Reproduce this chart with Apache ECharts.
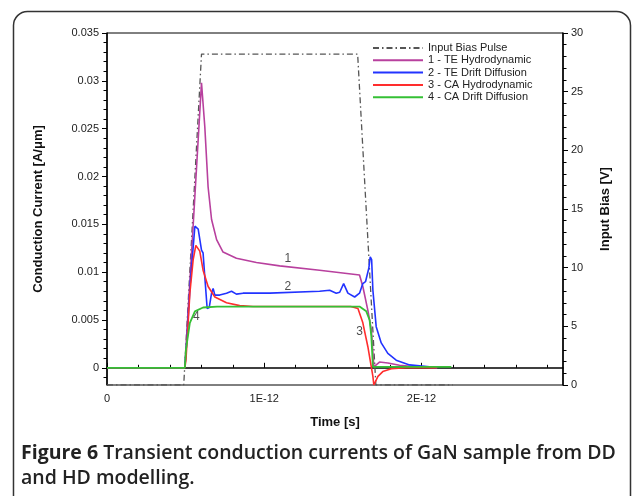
<!DOCTYPE html>
<html lang="en">
<head>
<meta charset="utf-8">
<title>Transient conduction currents</title>
<script src="https://cdn.jsdelivr.net/npm/echarts@6/dist/echarts.min.js"></script>
<style>
  html, body { margin: 0; padding: 0; background: #fff; }
  #main { width: 633px; height: 496px; }
</style>
</head>
<body>
<div id="main"></div>
<script>
// time in ps (axis labelled in seconds), current in A/um, bias in V
var biasPulse = [[0, 0], [0.488, 0], [0.601, 28.2], [1.594, 28.2], [1.71, 0], [2.2, 0]];

var teHydro = [[0, 0], [0.495, 0], [0.601, 0.0298], [0.622, 0.0252], [0.643, 0.0189], [0.665, 0.0155],
  [0.697, 0.0134], [0.738, 0.0121], [0.823, 0.01145], [0.95, 0.0110], [1.098, 0.01065], [1.352, 0.0102],
  [1.606, 0.0097], [1.627, 0.0085], [1.659, 0.006], [1.681, 0.004], [1.697, 0.0001], [1.733, 0.0006],
  [1.786, 0.0005], [1.86, 0.00026], [1.966, 0.0001], [2.1, 0]];

var teDrift = [[0, 0], [0.495, 0], [0.506, 0.0025], [0.53, 0.009], [0.559, 0.0148], [0.58, 0.0145],
  [0.601, 0.0123], [0.611, 0.0120], [0.622, 0.0095], [0.637, 0.0062], [0.65, 0.0063], [0.665, 0.0078],
  [0.675, 0.0083], [0.686, 0.0076], [0.717, 0.0076], [0.76, 0.0078], [0.792, 0.0080], [0.823, 0.0077],
  [0.865, 0.0078], [1.035, 0.0078], [1.352, 0.0080], [1.416, 0.0081], [1.458, 0.0078], [1.48, 0.0079],
  [1.505, 0.0088], [1.532, 0.0078], [1.575, 0.0074], [1.606, 0.0078], [1.627, 0.0088], [1.644, 0.0090],
  [1.665, 0.0104], [1.674, 0.0116], [1.683, 0.0113], [1.691, 0.0081], [1.712, 0.0043], [1.744, 0.0026],
  [1.786, 0.0015], [1.839, 0.0008], [1.924, 0.0003], [2.051, 0.0001], [2.1, 0]];

var caHydro = [[0, 0], [0.495, 0], [0.502, 0.0008], [0.527, 0.0078], [0.548, 0.0113], [0.565, 0.0128],
  [0.59, 0.0122], [0.611, 0.0102], [0.643, 0.0085], [0.686, 0.0074], [0.76, 0.0068], [0.844, 0.0065],
  [0.929, 0.0064], [1.55, 0.0064], [1.596, 0.0062], [1.627, 0.0047], [1.659, 0.0022], [1.691, -0.0009],
  [1.697, -0.0018], [1.723, -0.0009], [1.754, -0.0004], [1.808, -0.0001], [1.9, 0], [2.1, 0]];

var caDrift = [[0, 0], [0.495, 0], [0.502, 0.0019], [0.527, 0.0047], [0.559, 0.0059], [0.611, 0.0063],
  [0.7, 0.0064], [1.606, 0.0064], [1.649, 0.0059], [1.670, 0.0050], [1.681, 0.0033], [1.691, 0.0001],
  [2.19, 0.0001]];

var curveTags = [[1.15, 0.0114, '1'], [1.15, 0.0085, '2'], [1.606, 0.0038, '3'], [0.568, 0.0053, '4']];

var currentTicks = [0, 0.005, 0.01, 0.015, 0.02, 0.025, 0.03, 0.035];
var currentMinor = [-0.001, 0.001, 0.002, 0.003, 0.004, 0.006, 0.007, 0.008, 0.009, 0.011, 0.012, 0.013, 0.014,
  0.016, 0.017, 0.018, 0.019, 0.021, 0.022, 0.023, 0.024, 0.026, 0.027, 0.028, 0.029, 0.031, 0.032, 0.033, 0.034];
var timeTicks = [0, 1, 2];
var timeMinor = [0.2, 0.4, 0.6, 0.8, 1.2, 1.4, 1.6, 1.8, 2.2, 2.4, 2.6, 2.8];

var chart = echarts.init(document.getElementById('main'));

var axisFont = 'Liberation Sans, Arial, sans-serif';
var nameStyle = { fontFamily: axisFont, fontWeight: 'bold', fontSize: 13, color: '#111' };

function timeLabel(v) {
  return v === 0 ? '0' : v + 'E-12';
}

option = {
  animation: false,
  backgroundColor: '#fff',
  grid: { left: 107, right: 70, top: 33, bottom: 111, show: true, borderColor: '#000', borderWidth: 1 },
  legend: {
    orient: 'vertical',
    left: 367,
    top: 37,
    itemWidth: 50,
    itemHeight: 12,
    itemGap: 0.3,
    itemStyle: { opacity: 0 },
    textStyle: { fontFamily: 'Liberation Sans Narrow, Liberation Sans, Arial, sans-serif', fontSize: 11, color: '#222', lineHeight: 12 },
    data: ['Input Bias Pulse', '1 - TE Hydrodynamic', '2 - TE Drift Diffusion', '3 - CA Hydrodynamic', '4 - CA Drift Diffusion']
  },
  xAxis: [{
    type: 'value', min: 0, max: 2.9, position: 'bottom',
    name: 'Time [s]', nameLocation: 'middle', nameGap: 31, nameTextStyle: nameStyle,
    axisLine: { lineStyle: { color: '#000', width: 1.5 } },
    axisTick: { inside: true, length: 5, customValues: timeTicks, lineStyle: { color: '#000' } },
    axisLabel: { customValues: timeTicks, formatter: timeLabel, margin: 8, fontFamily: axisFont, fontSize: 11, color: '#222' },
    splitLine: { show: false }
  }, {
    type: 'value', min: 0, max: 2.9, position: 'bottom',
    axisLine: { show: false },
    axisTick: { inside: true, length: 3, customValues: timeMinor, lineStyle: { color: '#000' } },
    axisLabel: { show: false },
    splitLine: { show: false }
  }],
  yAxis: [{
    type: 'value', min: -0.0018, max: 0.035, position: 'left',
    name: 'Conduction Current [A/\u03bcm]', nameLocation: 'middle', nameGap: 62, nameRotate: 90, nameTextStyle: nameStyle,
    axisLine: { show: true, lineStyle: { color: '#000', width: 1.5 } },
    axisTick: { show: true, length: 5, customValues: currentTicks, lineStyle: { color: '#000' } },
    axisLabel: { customValues: currentTicks, margin: 8, fontFamily: axisFont, fontSize: 11, color: '#222' },
    splitLine: { show: false }
  }, {
    type: 'value', min: -0.0018, max: 0.035, position: 'left',
    axisLine: { show: false },
    axisTick: { show: true, length: 3.5, customValues: currentMinor, lineStyle: { color: '#000' } },
    axisLabel: { show: false },
    splitLine: { show: false }
  }, {
    type: 'value', min: 0, max: 30, interval: 5, position: 'right',
    name: 'Input Bias [V]', nameLocation: 'middle', nameGap: 36, nameRotate: 90, nameTextStyle: nameStyle,
    axisLine: { show: true, lineStyle: { color: '#000', width: 1.5 } },
    axisTick: { show: true, length: 5, lineStyle: { color: '#000' } },
    minorTick: { show: true, splitNumber: 5, length: 3.5, lineStyle: { color: '#000' } },
    axisLabel: { margin: 8, fontFamily: axisFont, fontSize: 11, color: '#222' },
    splitLine: { show: false }
  }],
  series: [{
    name: 'Input Bias Pulse', type: 'line', yAxisIndex: 2, symbol: 'none',
    lineStyle: { color: '#555', width: 1.3, type: [6, 3, 1.5, 3] },
    itemStyle: { color: '#555' },
    data: biasPulse
  }, {
    name: '1 - TE Hydrodynamic', type: 'line', symbol: 'none',
    lineStyle: { color: '#b8409e', width: 1.6 }, itemStyle: { color: '#b8409e' },
    data: teHydro
  }, {
    name: '2 - TE Drift Diffusion', type: 'line', symbol: 'none',
    lineStyle: { color: '#2233ff', width: 1.6 }, itemStyle: { color: '#2233ff' },
    data: teDrift
  }, {
    name: '3 - CA Hydrodynamic', type: 'line', symbol: 'none',
    lineStyle: { color: '#ff2d2d', width: 1.6 }, itemStyle: { color: '#ff2d2d' },
    data: caHydro
  }, {
    name: '4 - CA Drift Diffusion', type: 'line', symbol: 'none',
    lineStyle: { color: '#35c035', width: 1.8 }, itemStyle: { color: '#35c035' },
    data: caDrift
  }, {
    type: 'scatter', symbolSize: 0, silent: true,
    label: {
      show: true, position: 'inside', fontFamily: axisFont, fontSize: 12, color: '#222',
      formatter: function (p) { return p.value[2]; }
    },
    data: curveTags
  }],
  graphic: [{
    type: 'rect', silent: true,
    shape: { x: 13.5, y: 11.5, width: 617, height: 520, r: 14 },
    style: { fill: 'none', stroke: '#333', lineWidth: 1.5 }
  }, {
    type: 'text', left: 21, top: 443,
    style: {
      text: '{b|Figure 6} Transient conduction currents of GaN sample from DD',
      fontFamily: 'Open Sans, sans-serif', fontSize: 19.5, fontWeight: 600, fill: '#222',
      rich: { b: { fontFamily: 'Open Sans, sans-serif', fontSize: 19.5, fontWeight: 'bold', fill: '#222' } }
    }
  }, {
    type: 'text', left: 21, top: 468,
    style: { text: 'and HD modelling.', fontFamily: 'Open Sans, sans-serif', fontSize: 19.5, fontWeight: 600, fill: '#222' }
  }]
};

chart.setOption(option);
</script>
</body>
</html>
